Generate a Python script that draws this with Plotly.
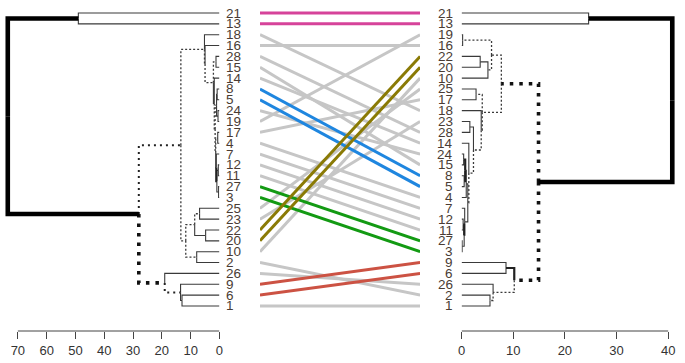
import plotly.graph_objects as go

# ---------------- data ----------------
LEFT_ORDER = [21, 13, 18, 16, 28, 15, 14, 8, 5, 24, 19, 17, 4, 7, 12, 11, 27, 3,
              25, 23, 22, 20, 10, 2, 26, 9, 6, 1]
RIGHT_ORDER = [21, 13, 19, 16, 22, 20, 10, 25, 17, 18, 23, 28, 14, 24, 15, 8, 5, 4,
               7, 12, 11, 27, 3, 9, 6, 26, 2, 1]

# hclust-style merges: negative = leaf label, positive = earlier merge (1-based)
LEFT_MERGE_A = [-8, -24, 1, -17, -12, -27, 5, -7, 4, 3, -14, -28, 12, -16, -18,
                -25, -22, 16, -10, 18, 15, -6, -9, -26, 21, -21, 26]
LEFT_MERGE_B = [-5, -19, 2, -4, -11, -3, 6, 7, 8, 9, 10, -15, 11, 13, 14,
                -23, -20, 17, -2, 19, 20, -1, 22, 23, 24, -13, 25]
LEFT_HEIGHT = [0.8, 0.5, 1.0, 0.6, 0.4, 0.3, 0.9, 1.1, 1.3, 1.5, 1.8, 1.2, 2.1, 5.0, 5.2,
               6.9, 4.8, 8.6, 7.9, 11.7, 13.4, 13.0, 13.5, 19.0, 28.0, 49.0, 73.5]

RIGHT_MERGE_A = [-19, -22, 2, 1, -25, -23, -24, -8, 7, 9, -12, -27, 11, -7, 10,
                 -14, 6, -18, 5, 4, -9, -2, -26, 21, 20, -21, 26]
RIGHT_MERGE_B = [-16, -20, -10, 3, -17, -28, -15, -5, 8, -4, -11, -3, 12, 13, 14,
                 15, 16, 17, 18, 19, -6, -1, 22, 23, 24, -13, 25]
RIGHT_HEIGHT = [0.2, 3.6, 5.1, 5.8, 2.8, 1.6, 0.4, 0.5, 0.7, 0.9, 0.3, 0.1, 0.5, 0.6, 1.2,
                1.4, 2.3, 3.8, 4.0, 7.7, 8.6, 5.5, 6.1, 10.2, 14.9, 24.6, 40.8]

LEFT_TICKS = [0, 10, 20, 30, 40, 50, 60, 70]
RIGHT_TICKS = [0, 10, 20, 30, 40]

HIGHLIGHT_GROUPS = {"pink": [21, 13], "blue": [8, 5], "green": [27, 3],
                    "olive": [22, 20], "red": [9, 6]}

# ---------------- styles ----------------
EDGE = {
    "thin":  dict(width=1.1, color="#3a3a3a", dash="solid"),
    "dot":   dict(width=1.3, color="#3a3a3a", dash="2px,2px"),
    "dot2":  dict(width=2.0, color="#222222", dash="2px,4px"),
    "dot3":  dict(width=3.6, color="#111111", dash="3.5px,6px"),
    "med":   dict(width=2.2, color="#222222", dash="solid"),
    "thick": dict(width=4.6, color="#000000", dash="solid"),
}
LEFT_STYLE = {1: "thin", 2: "thin", 3: "dot", 4: "dot", 5: "thin", 6: "thin", 7: "med",
              8: "thin", 9: "dot", 10: "dot", 11: "thin", 12: "dot", 13: "dot", 14: "dot",
              15: "dot", 16: "dot", 17: "thin", 18: "dot", 19: "dot", 20: "dot",
              21: "dot2", 22: "thin", 23: "dot2", 24: "dot3", 25: "thick", 26: "thick"}
RIGHT_STYLE = {1: "dot", 2: "thin", 3: "dot", 4: "dot", 5: "dot", 6: "thin", 7: "med",
               8: "med", 9: "thin", 10: "thin", 11: "med", 12: "thin", 13: "thin",
               14: "thin", 15: "dot", 16: "dot", 17: "dot", 18: "dot", 19: "dot",
               20: "dot3", 21: "med", 22: "dot", 23: "dot", 24: "dot3", 25: "thick",
               26: "thick"}
COLORS = {"pink": "#d6439a", "blue": "#1f86df", "green": "#139a13",
          "olive": "#8a7a05", "red": "#cc5243"}
GRAY = "#c6c6c6"

W, H = 685, 363
TOP_PX, STEP_PX, AXIS_PX = 13, 10.85, 331
LEFT_PX0, LEFT_SCALE = 218, 2.914      # px of 0, px per unit
RIGHT_PX0, RIGHT_SCALE = 463, 5.225
MID_PX = (259, 421)

ymin = (0 - TOP_PX) / STEP_PX
ymax = (AXIS_PX - TOP_PX) / STEP_PX


def tree_segments(order, ma, mb, hts):
    pos = {lab: i for i, lab in enumerate(order)}
    ny, nh = {}, {}
    segs = []

    def get(ref):
        return (pos[-ref], 0.0) if ref < 0 else (ny[ref], nh[ref])

    for k, (a, b, h) in enumerate(zip(ma, mb, hts), start=1):
        ya, ha = get(a)
        yb, hb = get(b)
        y = (ya + yb) / 2
        ny[k], nh[k] = y, h
        for ref, cy, ch in ((a, ya, ha), (b, yb, hb)):
            segs.append((ref, [h, h, ch], [y, cy, cy]))
    return segs


fig = go.Figure()


def add_tree(segs, style_map, xa):
    groups = {}
    for ref, xs, ys in segs:
        st = "thin" if ref < 0 else style_map.get(ref, "thin")
        gx, gy = groups.setdefault(st, ([], []))
        gx += xs + [None]
        gy += ys + [None]
    for st in ["thin", "med", "dot", "dot2", "dot3", "thick"]:
        if st in groups:
            gx, gy = groups[st]
            fig.add_trace(go.Scatter(x=gx, y=gy, mode="lines", line=EDGE[st],
                                     xaxis=xa, yaxis="y", hoverinfo="skip",
                                     showlegend=False))


add_tree(tree_segments(LEFT_ORDER, LEFT_MERGE_A, LEFT_MERGE_B, LEFT_HEIGHT), LEFT_STYLE, "x")
add_tree(tree_segments(RIGHT_ORDER, RIGHT_MERGE_A, RIGHT_MERGE_B, RIGHT_HEIGHT), RIGHT_STYLE, "x3")

# connecting lines
lpos = {lab: i for i, lab in enumerate(LEFT_ORDER)}
rpos = {lab: i for i, lab in enumerate(RIGHT_ORDER)}
label_color = {}
for g, labs in HIGHLIGHT_GROUPS.items():
    for l in labs:
        label_color[l] = g
gx, gy = [], []
for lab in LEFT_ORDER:
    if lab not in label_color:
        gx += [0, 1, None]
        gy += [lpos[lab], rpos[lab], None]
fig.add_trace(go.Scatter(x=gx, y=gy, mode="lines", line=dict(color=GRAY, width=3),
                         xaxis="x2", yaxis="y", hoverinfo="skip", showlegend=False))
for g, labs in HIGHLIGHT_GROUPS.items():
    cx, cy = [], []
    for lab in labs:
        cx += [0, 1, None]
        cy += [lpos[lab], rpos[lab], None]
    fig.add_trace(go.Scatter(x=cx, y=cy, mode="lines", line=dict(color=COLORS[g], width=3),
                             xaxis="x2", yaxis="y", hoverinfo="skip", showlegend=False))

NARROW = "Liberation Sans Narrow, Arial Narrow, Liberation Sans, sans-serif"
LABEL_FONT = dict(family=NARROW, size=13.5, color="#4a3c34")
ann = []
for lab in LEFT_ORDER:
    ann.append(dict(xref="x domain", yref="y", x=1, y=lpos[lab], xshift=5,
                    text=str(lab), showarrow=False, xanchor="left", yanchor="middle",
                    font=LABEL_FONT))
for lab in RIGHT_ORDER:
    ann.append(dict(xref="x3 domain", yref="y", x=0, y=rpos[lab], xshift=-7,
                    text=str(lab), showarrow=False, xanchor="right", yanchor="middle",
                    font=LABEL_FONT))

ydom0 = (H - AXIS_PX) / H
axis_common = dict(showgrid=False, zeroline=False, showline=False, ticks="outside",
                   ticklen=7, tickwidth=1, tickcolor="#444",
                   tickfont=dict(family=NARROW, size=13, color="#333"),
                   anchor="y", fixedrange=True)

fig.update_layout(
    width=W, height=H, margin=dict(l=0, r=0, t=0, b=0),
    paper_bgcolor="white", plot_bgcolor="white", showlegend=False,
    xaxis=dict(domain=[0, LEFT_PX0 / W], range=[LEFT_PX0 / LEFT_SCALE, 0],
               tickvals=LEFT_TICKS, ticktext=[str(t) for t in LEFT_TICKS], **axis_common),
    xaxis2=dict(domain=[MID_PX[0] / W, MID_PX[1] / W], range=[0, 1], visible=False,
                anchor="y"),
    xaxis3=dict(domain=[RIGHT_PX0 / W, 1], range=[0, (W - RIGHT_PX0) / RIGHT_SCALE],
                tickvals=RIGHT_TICKS, ticktext=[str(t) for t in RIGHT_TICKS], **axis_common),
    yaxis=dict(domain=[ydom0, 1], range=[ymax, ymin], visible=False, anchor="x",
               fixedrange=True),
    annotations=ann,
    shapes=[
        dict(type="line", xref="x", yref="paper", x0=min(LEFT_TICKS), x1=max(LEFT_TICKS),
             y0=ydom0, y1=ydom0, line=dict(color="#444", width=1)),
        dict(type="line", xref="x3", yref="paper", x0=min(RIGHT_TICKS), x1=max(RIGHT_TICKS),
             y0=ydom0, y1=ydom0, line=dict(color="#444", width=1)),
    ],
)

fig.write_html("out.html", config={"displayModeBar": False, "staticPlot": True},
               post_script="document.body.style.margin='0';document.body.style.overflow='hidden';")
